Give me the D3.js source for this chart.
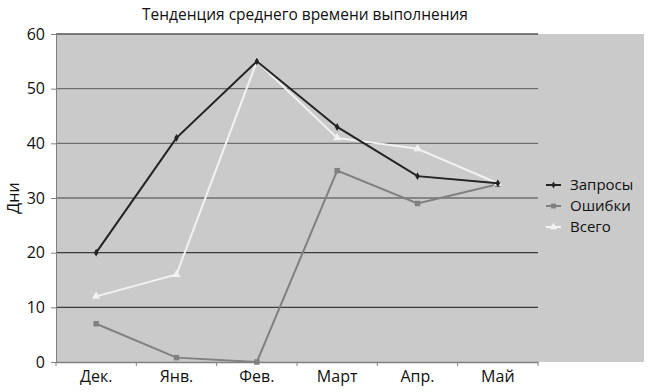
<!DOCTYPE html>
<html>
<head>
<meta charset="utf-8">
<script src="https://cdn.jsdelivr.net/npm/d3@7"></script>
<style>
    body { margin: 0; background: #fff; }
    svg text { font-family: "Open Sans", "Noto Sans", sans-serif; fill: #111; }
</style>
</head>
<body>
<div id="chart"></div>
<script>
const months = ["Дек.", "Янв.", "Фев.", "Март", "Апр.", "Май"];
const seriesNames = ["Запросы", "Ошибки", "Всего"];
const zaprosy = [20, 41, 55, 43, 34, 32.7];
const oshibki = [7, 0.8, 0, 35, 29, 32.5];
const vsego = [12, 16, 55, 41, 39, 32.7];
const yTicks = [0, 10, 20, 30, 40, 50, 60];

const colors = ["#222222", "#808080", "#f2f2f2"];
const shapes = [d3.symbolDiamond, d3.symbolSquare, d3.symbolTriangle];
const sizes = [18, 30, 30];

const width = 650, height = 392;
const plot = { left: 56, right: 538, top: 34, bottom: 362 };

let svg = d3.select("#chart").append("svg")
    .attr("width", width)
    .attr("height", height);

// gray background behind plot and legend
svg.append("rect")
    .attr("x", plot.left).attr("y", plot.top)
    .attr("width", 644 - plot.left).attr("height", plot.bottom - plot.top)
    .attr("fill", "#cacaca");

let x = d3.scaleBand().domain(months).range([plot.left, plot.right]);
let y = d3.scaleLinear().domain([0, 60]).range([plot.bottom, plot.top]);

// gridlines
svg.append("g").selectAll("line")
    .data(yTicks.filter(d => d > 0))
    .join("line")
    .attr("x1", plot.left).attr("x2", plot.right)
    .attr("y1", d => y(d)).attr("y2", d => y(d))
    .attr("stroke", d => (d === 10 || d === 20) ? "#3c3c3c" : (d === 60 ? "#555" : "#6e6e6e"))
    .attr("stroke-width", 1.3);

// y axis
let yAxis = svg.append("g")
    .attr("transform", `translate(${plot.left},0)`)
    .call(d3.axisLeft(y).tickValues(yTicks).tickSize(5).tickPadding(6));
yAxis.select(".domain").attr("stroke", "#808080");
yAxis.selectAll(".tick line").attr("stroke", "#808080");
yAxis.selectAll("text").style("font-size", "16px").attr("fill", "#111");

// x axis
let xAxis = svg.append("g")
    .attr("transform", `translate(0,${plot.bottom})`)
    .call(d3.axisBottom(x).tickSize(0).tickPadding(9));
xAxis.select(".domain").attr("stroke", "#808080").attr("stroke-width", 1.3);
xAxis.selectAll("text").style("font-size", "16px").attr("fill", "#111");
// ticks at band boundaries
svg.append("g").selectAll("line")
    .data(d3.range(months.length + 1))
    .join("line")
    .attr("x1", i => plot.left + i * x.step()).attr("x2", i => plot.left + i * x.step())
    .attr("y1", plot.bottom).attr("y2", plot.bottom + 4)
    .attr("stroke", "#808080");

// title
svg.append("text")
    .attr("x", 305).attr("y", 20)
    .attr("text-anchor", "middle")
    .style("font-size", "15.5px")
    .text("Тенденция среднего времени выполнения");

// y label
svg.append("text")
    .attr("transform", "translate(19,198) rotate(-90)")
    .attr("text-anchor", "middle")
    .style("font-size", "16px")
    .text("Дни");

const allSeries = [zaprosy, oshibki, vsego];
let line = d3.line()
    .x((d, i) => x(months[i]) + x.bandwidth() / 2)
    .y(d => y(d));

// draw Ошибки first, then Всего, then Запросы on top
[1, 2, 0].forEach(function (s) {
    let g = svg.append("g");
    g.append("path")
        .datum(allSeries[s])
        .attr("d", line)
        .attr("fill", "none")
        .attr("stroke", colors[s])
        .attr("stroke-width", 2);
    g.selectAll("path.marker")
        .data(allSeries[s])
        .join("path")
        .attr("class", "marker")
        .attr("d", d3.symbol().type(shapes[s]).size(sizes[s]))
        .attr("transform", (d, i) => `translate(${x(months[i]) + x.bandwidth() / 2},${y(d)})`)
        .attr("fill", colors[s]);
});

// legend
let legend = svg.append("g");
seriesNames.forEach(function (name, i) {
    let ly = 185 + i * 21;
    legend.append("line")
        .attr("x1", 546).attr("x2", 561)
        .attr("y1", ly).attr("y2", ly)
        .attr("stroke", colors[i]).attr("stroke-width", 2);
    legend.append("path")
        .attr("d", d3.symbol().type(shapes[i]).size(sizes[i] * 0.8))
        .attr("transform", `translate(553.5,${ly})`)
        .attr("fill", colors[i]);
    legend.append("text")
        .attr("x", 570).attr("y", ly + 5)
        .style("font-size", "15px")
        .text(name);
});
</script>
</body>
</html>
